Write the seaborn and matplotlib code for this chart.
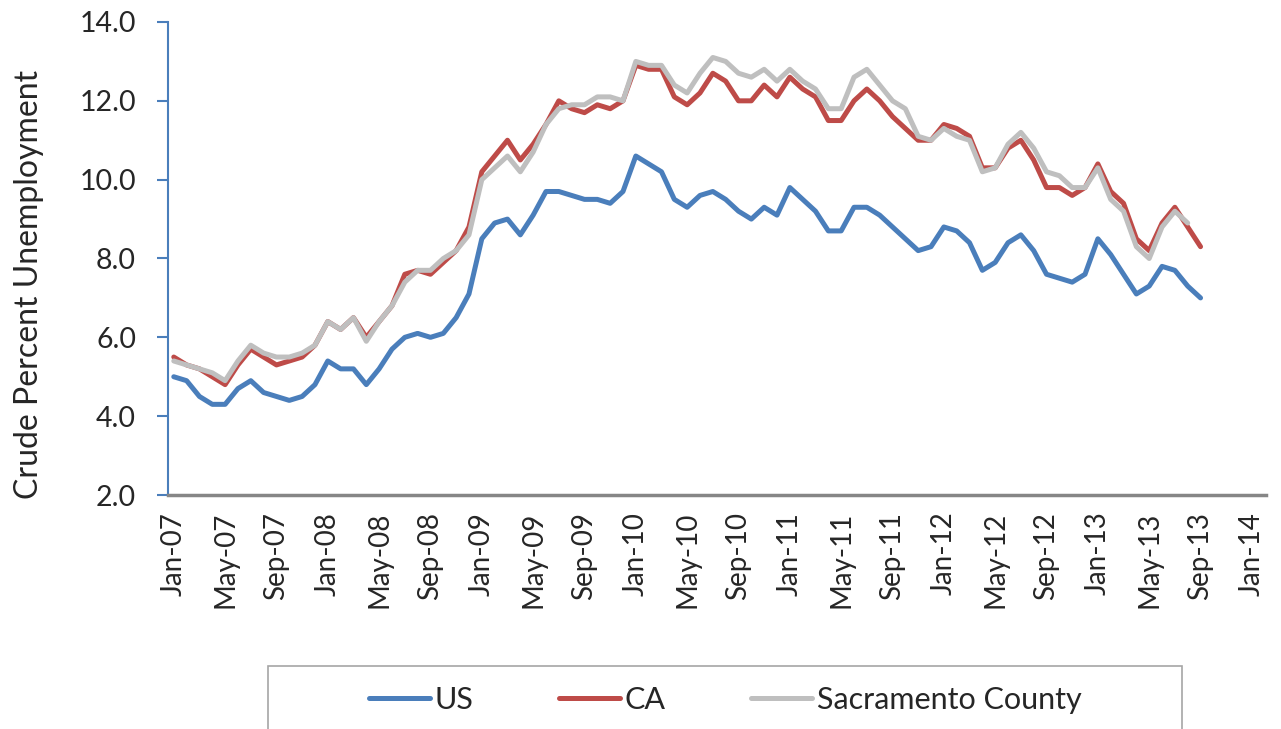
import numpy as np
import pandas as pd
import matplotlib.pyplot as plt
import seaborn as sns
from matplotlib.lines import Line2D
from matplotlib.patches import Rectangle
from matplotlib.ticker import FormatStrFormatter

# Monthly crude unemployment rate (%), Jan-07 onwards
us_rate = [
    5.0, 4.9, 4.5, 4.3, 4.3, 4.7, 4.9, 4.6, 4.5, 4.4, 4.5, 4.8,
    5.4, 5.2, 5.2, 4.8, 5.2, 5.7, 6.0, 6.1, 6.0, 6.1, 6.5, 7.1,
    8.5, 8.9, 9.0, 8.6, 9.1, 9.7, 9.7, 9.6, 9.5, 9.5, 9.4, 9.7,
    10.6, 10.4, 10.2, 9.5, 9.3, 9.6, 9.7, 9.5, 9.2, 9.0, 9.3, 9.1,
    9.8, 9.5, 9.2, 8.7, 8.7, 9.3, 9.3, 9.1, 8.8, 8.5, 8.2, 8.3,
    8.8, 8.7, 8.4, 7.7, 7.9, 8.4, 8.6, 8.2, 7.6, 7.5, 7.4, 7.6,
    8.5, 8.1, 7.6, 7.1, 7.3, 7.8, 7.7, 7.3, 7.0,
]
ca_rate = [
    5.5, 5.3, 5.2, 5.0, 4.8, 5.3, 5.7, 5.5, 5.3, 5.4, 5.5, 5.8,
    6.4, 6.2, 6.5, 6.0, 6.4, 6.8, 7.6, 7.7, 7.6, 7.9, 8.2, 8.8,
    10.2, 10.6, 11.0, 10.5, 10.9, 11.4, 12.0, 11.8, 11.7, 11.9, 11.8, 12.0,
    12.9, 12.8, 12.8, 12.1, 11.9, 12.2, 12.7, 12.5, 12.0, 12.0, 12.4, 12.1,
    12.6, 12.3, 12.1, 11.5, 11.5, 12.0, 12.3, 12.0, 11.6, 11.3, 11.0, 11.0,
    11.4, 11.3, 11.1, 10.3, 10.3, 10.8, 11.0, 10.5, 9.8, 9.8, 9.6, 9.8,
    10.4, 9.7, 9.4, 8.5, 8.2, 8.9, 9.3, 8.8, 8.3,
]
sac_rate = [
    5.4, 5.3, 5.2, 5.1, 4.9, 5.4, 5.8, 5.6, 5.5, 5.5, 5.6, 5.8,
    6.4, 6.2, 6.5, 5.9, 6.4, 6.8, 7.4, 7.7, 7.7, 8.0, 8.2, 8.6,
    10.0, 10.3, 10.6, 10.2, 10.7, 11.4, 11.8, 11.9, 11.9, 12.1, 12.1, 12.0,
    13.0, 12.9, 12.9, 12.4, 12.2, 12.7, 13.1, 13.0, 12.7, 12.6, 12.8, 12.5,
    12.8, 12.5, 12.3, 11.8, 11.8, 12.6, 12.8, 12.4, 12.0, 11.8, 11.1, 11.0,
    11.3, 11.1, 11.0, 10.2, 10.3, 10.9, 11.2, 10.8, 10.2, 10.1, 9.8, 9.8,
    10.3, 9.5, 9.2, 8.3, 8.0, 8.8, 9.2, 8.9,
]
series_names = ["US", "CA", "Sacramento County"]
tick_labels = [
    "Jan-07", "May-07", "Sep-07", "Jan-08", "May-08", "Sep-08", "Jan-09",
    "May-09", "Sep-09", "Jan-10", "May-10", "Sep-10", "Jan-11", "May-11",
    "Sep-11", "Jan-12", "May-12", "Sep-12", "Jan-13", "May-13", "Sep-13", "Jan-14",
]

sns.set_theme(style="white")
plt.rcParams['font.family'] = ['Lato', 'DejaVu Sans']

US_BLUE = "#4A7EBB"
CA_RED = "#BE4B48"
SAC_GRAY = "#BFBFBF"
palette = {"US": US_BLUE, "CA": CA_RED, "Sacramento County": SAC_GRAY}

frames = []
for name, vals in zip(series_names, [us_rate, ca_rate, sac_rate]):
    frames.append(pd.DataFrame({"month": np.arange(len(vals)), "rate": vals, "series": name}))
df = pd.concat(frames, ignore_index=True)

W, H = 1281, 729
fig = plt.figure(figsize=(W / 100, H / 100), dpi=100)
fig.patch.set_facecolor("white")
ax = fig.add_axes([168 / W, 1 - 495 / H, (1266 - 168) / W, (495 - 22) / H])

sns.lineplot(data=df, x="month", y="rate", hue="series", hue_order=series_names,
             palette=palette, linewidth=3.6, ax=ax, legend=False)

ax.set_xlim(-0.45, 85.1)
ax.set_ylim(2, 14)
ax.set_xticks(np.arange(0, 85, 4))
ax.set_xticklabels(tick_labels, rotation=90, fontsize=20, va="top", ha="center")
ax.tick_params(axis="x", length=0, pad=12)
ax.set_yticks(np.arange(2, 15, 2))
ax.yaxis.set_major_formatter(FormatStrFormatter("%.1f"))
ax.tick_params(axis="y", left=True, direction="out", length=8, width=1.5,
               color=US_BLUE, pad=15, labelsize=20.5)
ax.set_xlabel("")
ax.set_ylabel("Crude Percent Unemployment", fontsize=23, va="center")
ax.yaxis.set_label_coords((29 - 168) / 1098, (495 - 284) / 473)

for side in ["top", "right"]:
    ax.spines[side].set_visible(False)
ax.spines["left"].set_color(US_BLUE)
ax.spines["left"].set_linewidth(1.5)
ax.spines["bottom"].set_color("#868686")
ax.spines["bottom"].set_linewidth(2.5)

# legend box (runs off the bottom of the image, like the original)
fig.add_artist(Rectangle((268 / W, -0.02), (1182 - 268) / W, (729 - 666) / H + 0.02,
                         transform=fig.transFigure, fill=False, edgecolor="#A6A6A6", lw=1.2))
handles = [Line2D([], [], color=palette[n], lw=3.6) for n in series_names]
fig.legend(handles, series_names, loc="center", bbox_to_anchor=(725 / W, 1 - 700 / H),
           ncol=3, frameon=False, fontsize=22, handlelength=2.0, handletextpad=0.15,
           columnspacing=2.8)

plt.savefig("out.png", dpi=100, facecolor="white")
